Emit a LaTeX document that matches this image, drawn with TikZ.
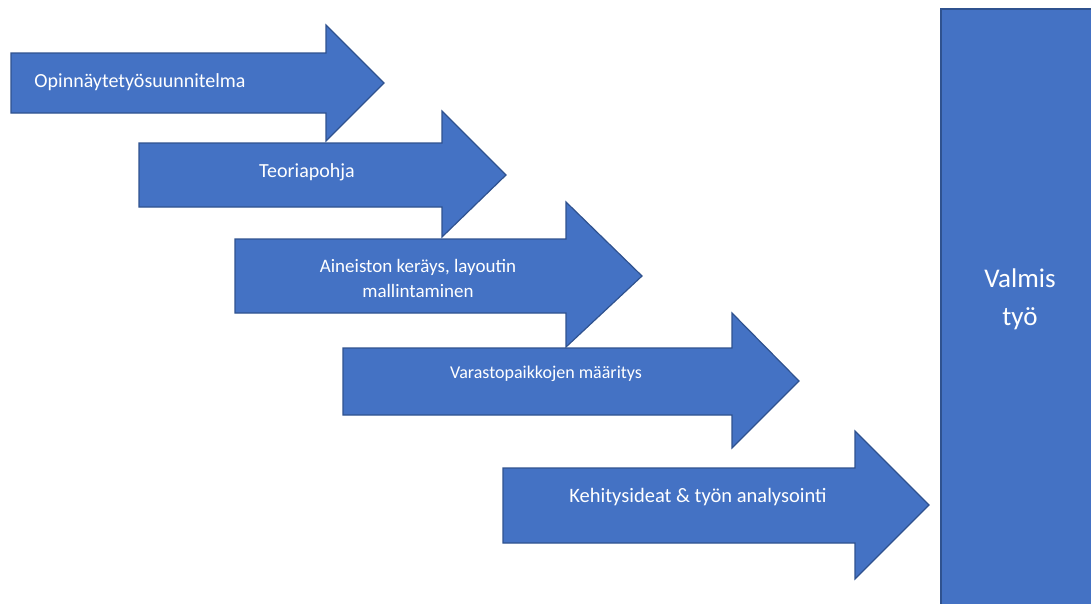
\documentclass[tikz,border=0pt]{standalone}
\usepackage{fontspec}
\setmainfont{Carlito}
\definecolor{boxfill}{HTML}{4472C4}
\definecolor{boxline}{HTML}{2F528F}
\tikzset{
  shapebox/.style={fill=boxfill, draw=boxline, line width=1.2pt, line join=miter},
  lbl/.style={text=white, inner sep=0pt, anchor=base, align=center},
}
\begin{document}
\begin{tikzpicture}[x=1pt,y=-1pt]
\useasboundingbox (0,0) rectangle (1091,603);
% arrow 1
\draw[shapebox] (11,53) -- (326,53) -- (326,25) -- (384,83) -- (326,141) -- (326,113) -- (11,113) -- cycle;
% arrow 2
\draw[shapebox] (139,143) -- (442,143) -- (442,111) -- (506,175) -- (442,237) -- (442,207) -- (139,207) -- cycle;
% arrow 3
\draw[shapebox] (235,239) -- (566,239) -- (566,202) -- (642,276) -- (566,347) -- (566,313) -- (235,313) -- cycle;
% arrow 4
\draw[shapebox] (343,348) -- (732,348) -- (732,313) -- (799,381) -- (732,448) -- (732,415) -- (343,415) -- cycle;
% arrow 5
\draw[shapebox] (503,468) -- (855,468) -- (855,431) -- (929,505) -- (855,579) -- (855,543) -- (503,543) -- cycle;
% final box
\draw[shapebox] (941,9) rectangle (1095,607);
\node[lbl, font=\fontsize{20}{24}\selectfont] (t1) at (140,87) {Opinnäytetyösuunnitelma};
\node[lbl, font=\fontsize{20}{24}\selectfont] (t2) at (307,177) {Teoriapohja};
\node[lbl, font=\fontsize{19}{25}\selectfont] (t3) at (418,297) {Aineiston keräys, layoutin\\mallintaminen};
\node[lbl, font=\fontsize{18}{22}\selectfont] (t4) at (546,378) {Varastopaikkojen määritys};
\node[lbl, font=\fontsize{20.5}{24}\selectfont] (t5) at (698,502) {Kehitysideat \& työn analysointi};
\node[lbl, font=\fontsize{27}{38}\selectfont] (t6) at (1020,325) {Valmis\\työ};
\end{tikzpicture}
\end{document}
